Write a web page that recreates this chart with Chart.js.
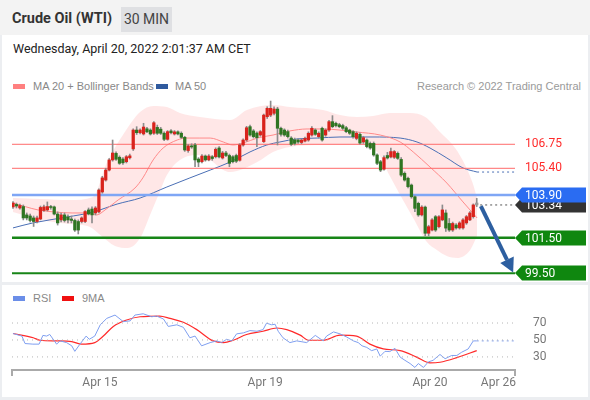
<!DOCTYPE html>
<html>
<head>
<meta charset="utf-8">
<script src="https://cdn.jsdelivr.net/npm/chart.js@4.4.0/dist/chart.umd.min.js"></script>
<style>
    body { margin: 0; width: 590px; height: 400px; background: #eceef1; position: relative; overflow: hidden; font-family: Roboto, "Liberation Sans", Arial, sans-serif; }
    #hdr { position: absolute; left: 0; top: 0; width: 590px; height: 35px; background: #f3f3f3; }
    #title { position: absolute; left: 12px; top: 10px; font-size: 14.5px; font-weight: bold; color: #333; }
    #tf { position: absolute; left: 121px; top: 7px; width: 51px; height: 25px; line-height: 25px; text-align: center; background: #dfe0e3; font-size: 14px; color: #444; }
    .panel { position: absolute; left: 2px; width: 586px; background: #fff; }
    #date { position: absolute; left: 13px; top: 41px; font-size: 12.5px; color: #222; }
    .leg { position: absolute; font-family: "Liberation Sans", Arial, sans-serif; font-size: 11px; color: #888; line-height: 12px; }
    .sw { position: absolute; width: 12px; height: 5px; }
    canvas { position: absolute; left: 0; }
</style>
</head>
<body>
<div id="hdr"><div id="title">Crude Oil (WTI)</div><div id="tf">30 MIN</div></div>
<div class="panel" style="top:35px;height:247px"></div>
<div class="panel" style="top:285px;height:112px"></div>
<div id="date">Wednesday, April 20, 2022 2:01:37 AM CET</div>

<div class="sw" style="left:13px;top:84px;background:#ff8080"></div>
<div class="leg" style="left:33px;top:80px">MA 20 + Bollinger Bands</div>
<div class="sw" style="left:156px;top:84px;background:#2f5a9e"></div>
<div class="leg" style="left:175px;top:80px">MA 50</div>
<div class="leg" style="right:9px;top:80px;color:#9a9a9a">Research © 2022 Trading Central</div>

<div class="sw" style="left:13px;top:296px;background:#6b8ee8"></div>
<div class="leg" style="left:33px;top:292px">RSI</div>
<div class="sw" style="left:62px;top:296px;background:#f01010"></div>
<div class="leg" style="left:82px;top:292px">9MA</div>

<canvas id="main" width="590" height="187" style="top:95px"></canvas>
<canvas id="rsi" width="590" height="112" style="top:285px"></canvas>

<script>
// 30 min candles, oldest first
const opens  = [103.23,103.37,103.17,103.25,102.78,102.72,102.61,102.41,102.55,103.03,103.06,103.25,103.23,102.83,102.50,102.78,102.67,102.55,102.47,102.41,102.41,
                102.41,103.06,103.11,102.89,102.95,104.07,104.74,105.30,105.87,106.24,106.02,105.92,105.77,105.99,106.49,107.55,107.40,107.33,107.62,107.55,
                107.37,107.70,107.60,107.37,107.03,107.50,107.33,107.45,107.37,107.14,106.40,106.66,106.71,105.92,105.77,106.09,105.87,106.05,106.05,106.54,105.98,106.26,
                106.12,106.05,106.12,105.85,106.71,106.99,107.74,107.50,107.38,107.27,106.90,108.30,108.39,108.49,108.73,107.65,107.55,107.46,107.10,107.00,106.99,
                106.85,106.93,106.99,107.27,107.55,107.18,107.65,107.27,107.55,108.02,107.93,107.85,107.80,107.68,107.55,107.46,107.08,107.31,106.88,106.99,
                106.80,106.80,106.15,105.77,105.35,106.12,106.04,106.02,106.24,105.90,105.12,104.84,104.46,103.80,103.43,102.78,103.22,101.75,101.93,102.68,
                102.12,102.50,102.89,102.30,101.93,102.21,102.05,102.05,102.33,102.50,102.68,103.45];
const highs  = [103.53,103.45,103.39,103.34,102.89,102.83,102.72,102.72,103.28,103.34,103.51,103.32,103.28,102.95,102.89,102.89,102.78,102.72,102.55,102.50,102.67,
                103.03,103.17,103.23,103.25,104.25,104.95,105.40,105.95,106.99,106.32,106.10,106.00,106.12,106.20,107.62,107.74,107.62,107.93,107.70,107.62,
                108.02,107.83,107.70,107.45,107.52,107.58,107.52,107.50,107.45,107.20,106.74,106.78,106.80,106.00,106.17,106.15,106.17,106.12,106.55,106.62,106.35,106.35,
                106.20,106.12,106.20,106.78,107.05,107.76,107.83,107.58,107.45,107.52,108.45,108.86,109.18,108.86,108.83,107.72,107.62,107.55,107.18,107.10,107.05,
                107.05,107.15,107.45,107.75,107.62,107.45,107.72,107.62,108.10,108.36,108.00,107.93,107.88,107.76,107.60,107.52,107.45,107.40,107.20,107.05,
                106.88,106.88,106.22,105.85,106.10,106.30,106.54,106.40,106.32,106.00,105.20,104.90,104.52,103.86,103.50,103.30,103.28,102.20,102.58,102.75,
                102.75,103.34,103.06,102.58,102.38,102.30,102.40,102.58,102.75,102.97,103.40,103.71];
const lows   = [103.14,103.17,103.11,102.50,102.50,102.38,102.13,102.33,102.50,102.97,103.00,103.10,102.78,102.21,102.38,102.38,102.33,102.33,101.85,101.71,102.33,
                102.35,102.78,102.33,102.78,102.89,104.00,104.68,105.25,105.80,105.85,105.62,105.62,105.70,105.92,106.40,107.30,107.33,107.27,107.40,107.27,
                107.30,107.30,107.30,106.95,106.98,107.33,107.27,107.27,107.08,106.35,106.30,106.52,105.49,105.49,105.70,105.80,105.82,105.85,105.98,105.98,105.92,106.05,
                105.49,105.70,105.72,105.80,106.65,106.92,107.20,107.10,106.62,107.20,106.85,108.20,108.30,108.40,106.71,107.20,107.20,107.10,106.68,106.71,106.80,
                106.78,106.88,106.92,107.20,107.25,107.10,106.92,107.20,107.48,107.68,107.72,107.68,107.58,107.40,107.30,107.10,107.00,106.75,106.80,106.55,
                106.47,106.08,105.60,105.21,105.30,105.92,105.98,105.95,105.90,104.95,104.68,104.30,103.72,102.96,102.70,102.72,101.60,101.60,101.88,101.85,
                102.05,102.45,101.85,101.85,101.85,101.98,101.98,101.98,102.25,102.45,102.60,103.25];
const closes = [103.45,103.28,103.31,102.61,102.61,102.47,102.41,102.61,103.20,103.23,103.25,103.20,102.83,102.33,102.78,102.47,102.50,102.47,101.93,101.93,102.61,
                102.97,102.83,102.78,103.17,104.18,104.86,105.30,105.87,106.26,105.91,105.68,105.71,106.05,106.10,107.55,107.40,107.55,107.72,107.45,107.33,
                107.96,107.37,107.37,107.03,107.46,107.40,107.45,107.33,107.14,106.43,106.66,106.60,105.87,105.75,106.09,105.87,106.09,105.95,106.47,106.04,106.26,106.12,
                105.68,105.77,105.80,106.71,106.99,107.68,107.27,107.18,107.12,107.46,108.39,108.77,108.77,108.73,107.65,107.31,107.27,107.18,106.75,106.80,106.88,
                106.99,107.08,107.37,107.65,107.31,107.37,106.99,107.55,108.02,107.74,107.80,107.74,107.65,107.46,107.37,107.18,107.37,106.82,107.12,106.62,
                106.54,106.15,105.68,105.30,106.00,105.98,106.34,106.34,105.96,105.02,104.74,104.37,103.80,103.15,102.78,103.22,101.75,102.12,102.50,101.93,
                102.68,103.06,102.04,101.93,102.30,102.05,102.33,102.50,102.68,102.89,103.34,103.34];

// indicators as [candle index, value]
const ma20 = [[0,103.45],[7.3,103.06],[12.3,102.94],[17.2,102.89],[21.8,102.89],[24.4,102.78],[26.8,103.06],[30.6,103.62],[35.5,104.29],[37.8,104.86],
              [40.8,105.87],[43.7,106.54],[47.8,106.99],[50.6,107.10],[54.4,107.10],[57.4,107.10],[61.2,106.88],[64,106.71],[67,106.82],[71.1,107.10],
              [75.7,107.27],[80.6,107.50],[85.6,107.61],[90.2,107.61],[95.2,107.55],[100.1,107.44],[106.9,107.27],[112.7,106.88],[116.5,106.32],[121.4,105.47],
              [126.3,104.57],[131,103.51],[135.1,102.61]];
const bbUpper = [[0,103.73],[7.9,103.68],[16.6,103.62],[23.3,103.79],[27.4,105.75],[32,107.27],[37,108.56],[40.8,108.90],[44.8,108.84],[48.6,108.51],
                 [54.4,108.28],[63.2,108.11],[68.1,108.68],[75.7,108.96],[80.6,108.84],[90.2,108.68],[95.2,108.39],[100.1,108.28],[104.8,108.34],[109.7,108.51],
                 [115.6,108.51],[120,108.28],[124.3,107.44],[128.7,106.54],[131.6,105.59],[133.7,104.63],[135.1,103.73]];
const bbLower = [[0,102.94],[7.9,102.50],[16.6,102.27],[22.4,102.10],[25.4,101.65],[29.7,101.03],[33.4,100.92],[37,101.48],[39.9,102.78],[42.7,104.07],
                 [44.8,105.02],[48.6,105.87],[54.4,106.15],[63.2,105.19],[71.1,105.75],[75.7,106.32],[80.6,106.60],[90.2,106.71],[100.1,106.71],[106,106.32],
                 [109.7,104.97],[112.7,103.90],[116.5,102.61],[120.5,101.26],[123.4,100.81],[126.3,100.47],[129.3,100.36],[133.1,100.81],[135.1,101.60]];
const ma50 = [[0,102.05],[5.8,102.33],[15.7,102.66],[23.3,102.94],[30.3,103.39],[37,103.73],[44.8,104.35],[51.5,104.86],[57.4,105.30],[63.2,105.75],
              [69,106.32],[73.9,106.71],[77.7,106.88],[82.6,107.05],[88.5,107.10],[95.2,107.16],[104.8,107.16],[112.7,107.10],[117.6,106.88],[121.4,106.54],
              [126.3,105.98],[131,105.42],[135.1,105.19]];

const rsi = [[0,57.6],[2.6,54.6],[3.5,45.8],[5.8,45.1],[7.6,45.1],[8.7,55.4],[9.8,54.6],[10.7,56.5],[12.7,45.1],[13.7,48.9],[15.6,46.9],[17.1,43.1],
             [18,36.6],[19.5,45.1],[21.3,54.6],[22.2,50.8],[23.8,54.6],[25.4,67.9],[27.3,75.5],[29.7,79.4],[32.1,71.7],[34.1,72.5],[35.5,79.4],[37.9,80.9],
             [40.4,77.4],[41.8,78.2],[43.8,74.8],[45.2,66],[47.7,67.9],[49.6,64.9],[51.5,52.6],[53,54.6],[54.9,43.1],[57.4,46.9],[59.3,48.9],[60.7,46.9],
             [62.2,50.8],[63.7,48.9],[65.1,57.2],[67.1,58.4],[69,61.1],[71,60.3],[72.8,62.2],[73.8,69.8],[75.3,67.9],[76.3,68.6],[77.2,60.3],[78.6,52.6],
             [80.6,46.9],[82.6,48.9],[85.5,46.9],[88,55.4],[90.3,48.9],[91.3,54.6],[93.3,59.5],[95.2,57.2],[97.2,53.4],[99.1,48.9],[100.5,46.9],[101.6,43.1],
             [103,41.2],[104.4,37.4],[105.9,39.4],[106.9,30.9],[108.3,36.6],[109.7,36.3],[111.2,40.1],[112.7,29.8],[114.1,26],[115.6,22.2],[117,17.6],
             [118,22.2],[119.5,17.6],[120.9,24.1],[122.3,26],[124.3,32.9],[125.8,27.9],[127.7,31.7],[129.2,31.7],[130.6,35.5],[132.5,39.4],[134,48.9],[135,48.9]];
const rsiMa9 = [[0,57.6],[5.9,52.6],[7.9,49.7],[12.7,48.9],[17.1,48.1],[20,45.1],[23.8,46.9],[26.3,54.6],[29.2,66],[33.1,73.6],[37,77.4],[42.7,78.2],
                [45.7,75.5],[49.6,70.9],[53.5,62.2],[58.3,48.9],[61.3,46.9],[64.1,49.7],[68,56.5],[72.8,60.3],[76.8,64.1],[79.7,62.2],[83.6,55.7],[86,49.7],
                [90.3,49.7],[95.2,55.7],[100,54.6],[103.9,45.1],[107.8,39.4],[112.7,37.4],[117.5,29.8],[121.4,22.9],[124.3,23.7],[129.2,29.1],[135,37.4]];
const rsiLevels = [30, 50, 70];

const resistLevels = [106.75, 105.40];
const pivotLevel = 103.90;
const supportLevels = [101.50, 99.50];
const lastPrice = 103.34;
const arrowFrom = [136.2, 103.28];
const arrowTo = [145.6, 99.55];

const dateTicks = [25.3, 73.4, 121.4, 141.3];
const dateLabels = ['Apr 15', 'Apr 19', 'Apr 20', 'Apr 26'];

const xMin = -0.29, xMax = 146.14;
const lastIdx = closes.length - 1;

function pts(arr) { return arr.map(p => ({x: p[0], y: p[1]})); }
function flat(v, from) { return [{x: from, y: v}, {x: xMax, y: v}]; }
function levelLine(v, color, width, order) {
    return {type: 'line', data: flat(v, xMin), borderColor: color, borderWidth: width, pointRadius: 0, order: order};
}

const bodyColors = closes.map((c, i) => i === lastIdx ? '#9a9a9a' : (c >= opens[i] ? '#d9231c' : '#2f7522'));

const tagPlugin = {
    id: 'tags',
    afterDatasetsDraw(chart) {
        const {ctx, chartArea, scales} = chart;
        const y = scales.y, x = scales.x;
        const left = chartArea.right;
        ctx.save();
        ctx.font = '12px Roboto, sans-serif';
        ctx.textBaseline = 'middle';

        // arrow
        const x0 = x.getPixelForValue(arrowFrom[0]), y0 = y.getPixelForValue(arrowFrom[1]);
        const x1 = x.getPixelForValue(arrowTo[0]), y1 = y.getPixelForValue(arrowTo[1]);
        const ang = Math.atan2(y1 - y0, x1 - x0);
        const hl = 14, hw = 7.5;
        const bx = x1 - hl * Math.cos(ang), by = y1 - hl * Math.sin(ang);
        ctx.strokeStyle = '#2d5fa0';
        ctx.fillStyle = '#2d5fa0';
        ctx.lineWidth = 4;
        ctx.beginPath(); ctx.moveTo(x0, y0); ctx.lineTo(bx, by); ctx.stroke();
        ctx.beginPath();
        ctx.moveTo(x1, y1);
        ctx.lineTo(bx + hw * Math.sin(ang), by - hw * Math.cos(ang));
        ctx.lineTo(bx - hw * Math.sin(ang), by + hw * Math.cos(ang));
        ctx.closePath(); ctx.fill();

        resistLevels.forEach(v => {
            ctx.fillStyle = '#ff2b2b';
            ctx.fillText(v.toFixed(2), left + 10, y.getPixelForValue(v));
        });

        function tag(v, color) {
            const py = Math.round(y.getPixelForValue(v));
            ctx.fillStyle = color;
            ctx.beginPath();
            ctx.moveTo(left, py);
            ctx.lineTo(left + 7, py - 7.5);
            ctx.lineTo(left + 71, py - 7.5);
            ctx.lineTo(left + 71, py + 7.5);
            ctx.lineTo(left + 7, py + 7.5);
            ctx.closePath();
            ctx.fill();
            ctx.fillStyle = '#fff';
            ctx.fillText(v.toFixed(2), left + 10, py + 0.5);
        }
        tag(lastPrice, '#333333');
        tag(pivotLevel, '#2a6cf2');
        supportLevels.forEach(v => tag(v, '#0f870f'));
        ctx.restore();
    }
};

new Chart(document.getElementById('main'), {
    type: 'line',
    data: {
        datasets: [
            {type: 'bar', data: closes.map((c, i) => ({x: i, y: [opens[i], c]})), backgroundColor: bodyColors,
             barThickness: 2.6, grouped: false, order: 1},
            {type: 'bar', data: closes.map((c, i) => ({x: i, y: [lows[i], highs[i]]})), backgroundColor: '#8c8c8c',
             barThickness: 1, grouped: false, order: 2},
            levelLine(resistLevels[0], '#ff6b6b', 1, 3),
            levelLine(resistLevels[1], '#ff6b6b', 1, 3),
            levelLine(pivotLevel, '#7fa6f5', 2.5, 3),
            levelLine(supportLevels[0], '#178517', 2.5, 3),
            levelLine(supportLevels[1], '#178517', 2, 3),
            {data: flat(lastPrice, 136), borderColor: '#555', borderWidth: 1, borderDash: [2, 3], pointRadius: 0, order: 3},
            {data: pts(ma20), borderColor: '#ff8a8a', borderWidth: 1, pointRadius: 0, cubicInterpolationMode: 'monotone', order: 4},
            {data: pts(ma50), borderColor: '#4a6fb5', borderWidth: 1, pointRadius: 0, cubicInterpolationMode: 'monotone', order: 4},
            {data: flat(ma50[ma50.length - 1][1], ma50[ma50.length - 1][0]), borderColor: '#4a6fb5', borderWidth: 1, borderDash: [2, 3], pointRadius: 0, order: 4},
            {data: pts(bbUpper), borderWidth: 0, pointRadius: 0, cubicInterpolationMode: 'monotone', fill: '+1',
             backgroundColor: 'rgba(255,175,175,0.3)', order: 9},
            {data: pts(bbLower), borderWidth: 0, pointRadius: 0, cubicInterpolationMode: 'monotone', order: 10},
        ],
    },
    options: {
        responsive: false,
        animation: false,
        events: [],
        layout: {padding: {left: 12, right: 75, top: 0, bottom: 0}},
        plugins: {legend: {display: false}, tooltip: {enabled: false}},
        scales: {
            x: {type: 'linear', min: xMin, max: xMax, offset: false, display: false},
            y: {min: 99.01, max: 109.52, display: false},
        },
    },
    plugins: [tagPlugin],
});

const endTicks = {
    id: 'endTicks',
    afterDraw(chart) {
        const {ctx, scales: {x}} = chart;
        ctx.save();
        ctx.strokeStyle = '#aaa';
        ctx.lineWidth = 2;
        [x.left, x.right].forEach(px => {
            ctx.beginPath(); ctx.moveTo(px, x.top); ctx.lineTo(px, x.top + 6); ctx.stroke();
        });
        ctx.restore();
    }
};

new Chart(document.getElementById('rsi'), {
    type: 'line',
    data: {
        datasets: [
            ...rsiLevels.map(v => ({data: flat(v, xMin), borderColor: '#b5b5b5', borderWidth: 1, borderDash: [1, 4], pointRadius: 0})),
            {data: pts(rsi), borderColor: '#7f9ff0', borderWidth: 1, pointRadius: 0},
            {data: flat(rsi[rsi.length - 1][1], rsi[rsi.length - 1][0]), borderColor: '#7f9ff0', borderWidth: 1, borderDash: [2, 3], pointRadius: 0},
            {data: pts(rsiMa9), borderColor: '#ff2a2a', borderWidth: 1.2, pointRadius: 0, cubicInterpolationMode: 'monotone'},
        ],
    },
    options: {
        responsive: false,
        animation: false,
        events: [],
        layout: {padding: {left: 12, right: 0, top: 15, bottom: 0}},
        plugins: {legend: {display: false}, tooltip: {enabled: false}},
        scales: {
            x: {
                type: 'linear', min: xMin, max: xMax, offset: false,
                grid: {display: true, drawOnChartArea: false, drawTicks: false},
                border: {display: true, color: '#aaa', width: 2},
                afterBuildTicks: s => { s.ticks = dateTicks.map(v => ({value: v})); },
                afterFit: s => { s.height = 27; },
                ticks: {padding: 6, autoSkip: false, maxRotation: 0, color: '#777', font: {family: 'Roboto', size: 12},
                        callback: (v, i) => dateLabels[i]},
            },
            y: {
                position: 'right', min: 14.57, max: 94.57,
                grid: {display: false},
                border: {display: false},
                afterBuildTicks: s => { s.ticks = rsiLevels.map(v => ({value: v})); },
                afterFit: s => { s.width = 75; },
                ticks: {padding: 10, color: '#777', font: {family: 'Roboto', size: 12}, callback: v => String(v)},
            },
        },
    },
    plugins: [endTicks],
});
</script>
</body>
</html>
